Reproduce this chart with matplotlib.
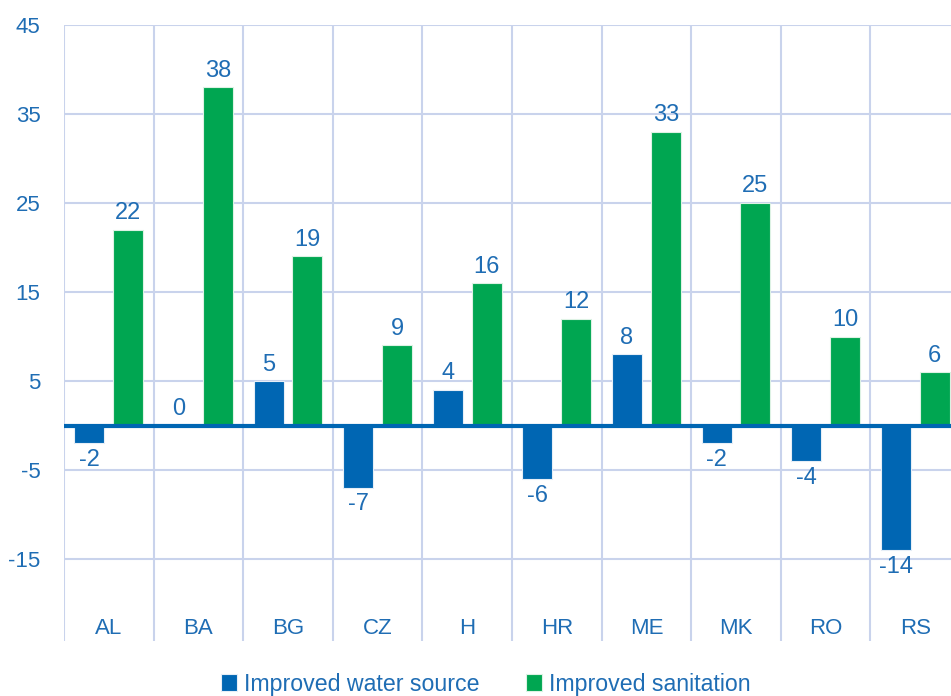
import matplotlib.pyplot as plt
import numpy as np

plt.rcParams['font.family'] = ['Liberation Sans', 'DejaVu Sans']

# data
countries = ['AL', 'BA', 'BG', 'CZ', 'H', 'HR', 'ME', 'MK', 'RO', 'RS']
water = [-2, 0, 5, -7, 4, -6, 8, -2, -4, -14]
sanitation = [22, 38, 19, 9, 16, 12, 33, 25, 10, 6]
yticks = [-15, -5, 5, 15, 25, 35, 45]

blue = '#0066B3'
green = '#00A651'
text_col = '#1F6DB4'
grid_col = '#C9D3EC'

fig = plt.figure(figsize=(9.51, 6.96), dpi=100)
ax = fig.add_axes([64 / 951, 55 / 696, 896 / 951, 616 / 696])

x = np.arange(len(countries))
w = 0.335
off = 0.217

ax.bar(x - off, water, w, color=blue, edgecolor='#E6EEF7', linewidth=0.8, zorder=3,
       label='Improved water source')
ax.bar(x + off, sanitation, w, color=green, edgecolor='#DDF2E4', linewidth=0.8, zorder=3,
       label='Improved sanitation')

ax.axhline(0, color=blue, linewidth=3, zorder=4)

# value labels
for xi, v in zip(x - off, water):
    if v >= 0:
        ax.annotate(str(v), (xi, v), xytext=(0, 4), textcoords='offset points',
                    ha='center', va='bottom', fontsize=17, color=text_col)
    else:
        ax.annotate(str(v), (xi, v), xytext=(0, -4), textcoords='offset points',
                    ha='center', va='top', fontsize=17, color=text_col)
for xi, v in zip(x + off, sanitation):
    ax.annotate(str(v), (xi, v), xytext=(0, 4), textcoords='offset points',
                ha='center', va='bottom', fontsize=17, color=text_col)

ax.set_xlim(-0.5, len(countries) - 0.5)
ax.set_ylim(-24.2, 45)

ax.set_yticks(yticks)
ax.set_yticklabels([str(t) for t in yticks], fontsize=16, color=text_col)
ax.tick_params(axis='y', length=0, pad=17)
for t in yticks:
    ax.axhline(t, color=grid_col, linewidth=1.5, zorder=1)

# vertical separators between categories
for b in np.arange(len(countries) + 1) - 0.5:
    ax.axvline(b, color=grid_col, linewidth=1.5, zorder=1)

ax.set_xticks([])
for xi, c in zip(x, countries):
    ax.text(xi, -22.8, c, ha='center', va='center', fontsize=16, color=text_col)

for s in ax.spines.values():
    s.set_visible(False)

fig.legend(loc='center', bbox_to_anchor=(486 / 951, 0.017), ncol=2, frameon=False,
           fontsize=16.7, labelcolor=text_col, handlelength=0.7, handleheight=0.7,
           handletextpad=0.3, columnspacing=2.0, borderaxespad=0)

fig.savefig('out.png', dpi=100)
